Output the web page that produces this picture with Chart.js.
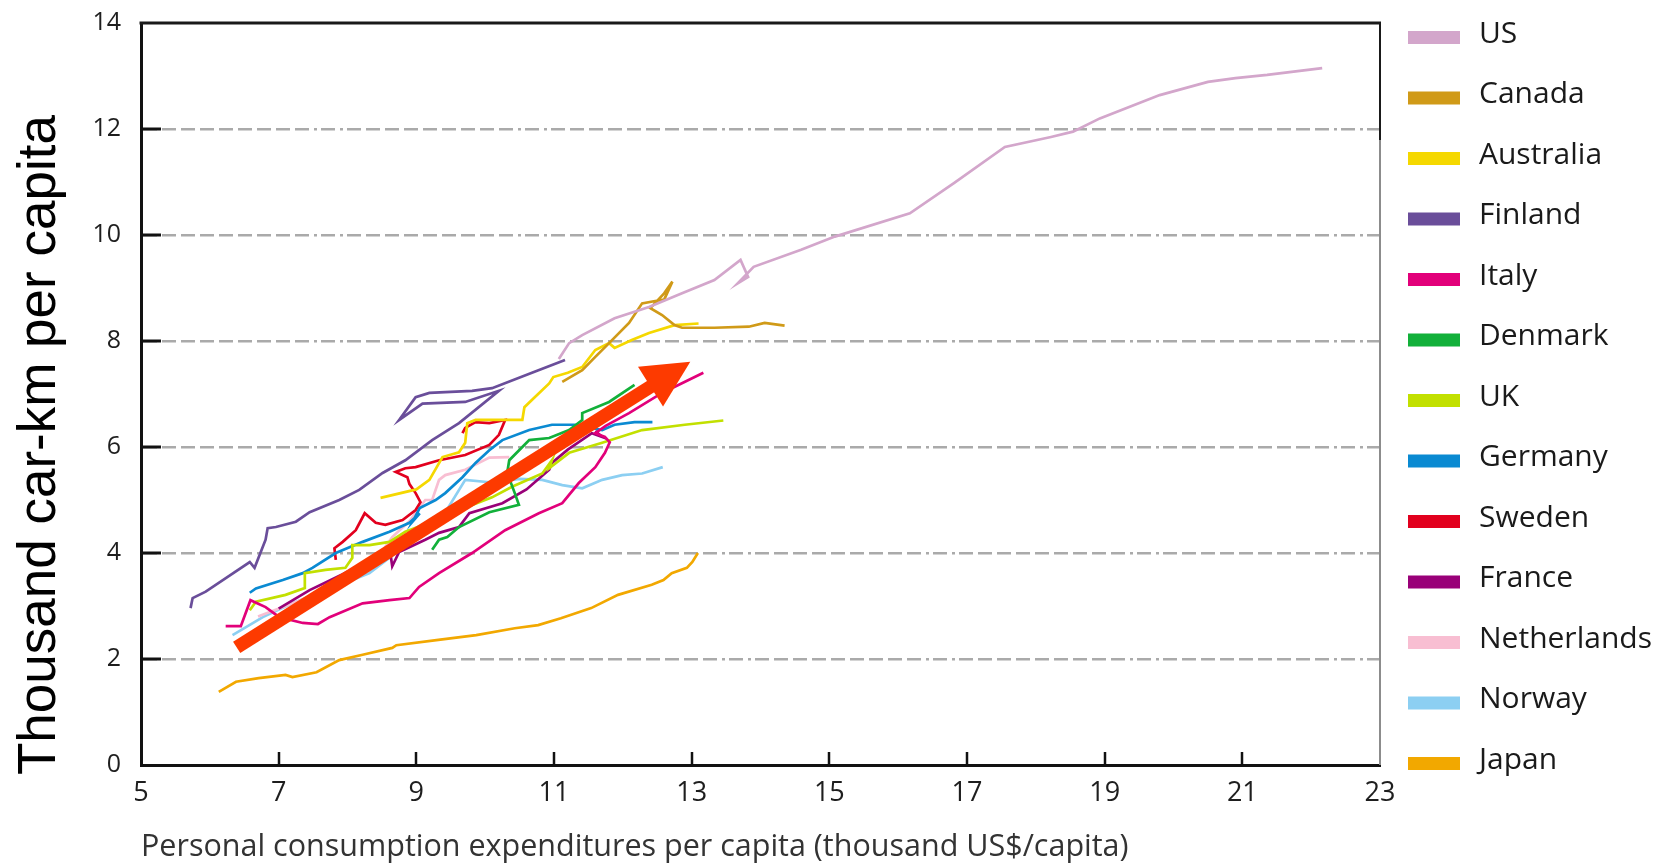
<!DOCTYPE html>
<html><head><meta charset="utf-8">
<script src="https://cdn.jsdelivr.net/npm/chart.js@4.4.1/dist/chart.umd.min.js"></script>
<style>html,body{margin:0;padding:0;background:#fff}canvas{display:block}</style>
</head><body>
<canvas id="c" width="1666" height="868"></canvas>
<script>
// ---- data (x: thousand US$/capita, y: thousand car-km per capita) ----
const COUNTRIES = ['US','Canada','Australia','Finland','Italy','Denmark','UK','Germany','Sweden','France','Netherlands','Norway','Japan'];
const COLORS = ['#d3a6cb','#d09a18','#f5d800','#6a4e9a','#e2007a','#12b03a','#c2e000','#0a8ad2','#e2001e','#990078','#f8bed2','#8ccff2','#f2a800'];

const US_X = [11.07,11.22,11.41,11.88,12.38,12.86,13.33,13.71,13.82,13.67,13.9,14.59,15.08,16.17,16.81,17.55,18.22,18.54,18.93,19.8,20.5,20.9,21.36,22.16];
const US_Y = [7.66,7.96,8.11,8.43,8.64,8.9,9.15,9.53,9.21,9.09,9.4,9.72,9.97,10.41,10.98,11.66,11.85,11.95,12.2,12.64,12.89,12.96,13.02,13.15];

const CANADA_X = [11.12,11.41,11.6,11.8,12.09,12.28,12.45,12.6,12.72,12.6,12.4,12.57,12.75,12.86,13.33,13.83,14.06,14.35];
const CANADA_Y = [7.23,7.45,7.7,7.96,8.34,8.71,8.75,8.78,9.12,8.9,8.62,8.49,8.3,8.25,8.25,8.27,8.34,8.29];

const AUSTRALIA_X = [8.48,9.0,9.19,9.38,9.62,9.71,9.74,9.86,10.29,10.54,10.57,10.72,10.93,10.99,11.2,11.41,11.6,11.8,11.88,12.13,12.38,12.75,13.1];
const AUSTRALIA_Y = [5.04,5.2,5.38,5.81,5.9,6.08,6.45,6.51,6.51,6.51,6.75,6.94,7.2,7.32,7.4,7.51,7.83,7.96,7.87,8.02,8.15,8.3,8.33];

const FINLAND_X = [5.72,5.75,5.94,6.58,6.65,6.81,6.84,6.96,7.25,7.45,7.88,8.17,8.51,8.84,9.23,9.62,10.2,9.71,9.09,8.75,8.99,9.19,9.81,10.1,10.68,11.16];
const FINLAND_Y = [2.96,3.15,3.27,3.83,3.72,4.25,4.47,4.49,4.59,4.77,5.0,5.19,5.51,5.75,6.13,6.45,7.06,6.85,6.82,6.51,6.94,7.02,7.06,7.11,7.4,7.64];

const ITALY_X = [6.23,6.45,6.59,6.81,7.01,7.35,7.57,7.74,8.22,8.61,8.9,9.04,9.33,9.81,10.29,10.78,11.12,11.36,11.6,11.74,11.81,11.74,11.6,11.75,12.09,12.57,13.17];
const ITALY_Y = [2.62,2.62,3.11,2.98,2.79,2.68,2.66,2.79,3.05,3.11,3.15,3.36,3.62,4.0,4.43,4.75,4.94,5.32,5.62,5.89,6.09,6.19,6.26,6.4,6.64,7.02,7.4];

const DENMARK_X = [9.23,9.33,9.45,9.62,10.06,10.49,10.43,10.32,10.35,10.54,10.64,10.93,11.22,11.41,11.41,11.8,12.17];
const DENMARK_Y = [4.06,4.25,4.3,4.49,4.77,4.91,5.13,5.51,5.75,6.0,6.13,6.17,6.32,6.51,6.64,6.85,7.17];

const UK_X = [6.58,6.67,7.1,7.38,7.38,7.68,7.97,8.07,8.07,8.32,8.61,8.84,9.28,9.7,10.1,10.39,10.83,10.97,10.93,11.22,11.7,12.28,12.9,13.46];
const UK_Y = [2.92,3.08,3.21,3.34,3.62,3.68,3.72,3.91,4.15,4.15,4.21,4.4,4.62,4.85,5.05,5.25,5.5,5.75,5.6,5.89,6.08,6.32,6.42,6.5];

const GERMANY_X = [6.58,6.67,7.06,7.35,7.49,7.83,8.22,8.61,8.9,9.05,8.95,9.05,9.28,9.42,9.67,9.86,10.06,10.25,10.64,10.97,11.3,11.7,11.88,12.17,12.43];
const GERMANY_Y = [3.25,3.33,3.49,3.62,3.72,4.0,4.21,4.4,4.57,4.75,4.6,4.85,5.0,5.13,5.43,5.7,5.94,6.13,6.32,6.42,6.42,6.32,6.42,6.47,6.47];

const SWEDEN_X = [7.83,7.81,7.93,8.12,8.25,8.41,8.55,8.8,8.99,9.06,8.99,8.9,8.87,8.7,8.84,8.99,9.33,9.71,10.06,10.2,10.29,10.06,9.86,9.71,9.67];
const SWEDEN_Y = [3.87,4.09,4.21,4.43,4.75,4.57,4.53,4.62,4.81,4.96,5.13,5.3,5.43,5.53,5.6,5.62,5.75,5.85,6.04,6.23,6.51,6.45,6.47,6.36,6.26];

const FRANCE_X = [7.0,7.45,7.93,8.35,8.62,8.65,8.75,9.13,9.33,9.62,9.77,10.25,10.6,10.93,10.97,11.2,11.55,11.7,11.6];
const FRANCE_Y = [2.95,3.3,3.6,3.88,4.02,3.75,4.02,4.25,4.38,4.49,4.75,4.94,5.2,5.57,5.7,5.95,6.26,6.19,6.3];

const NETHERLANDS_X = [6.7,7.3,7.9,8.4,8.65,8.9,9.13,9.23,9.33,9.42,9.71,9.91,10.06,10.35];
const NETHERLANDS_Y = [2.8,3.1,3.45,3.85,4.3,4.6,5.0,5.0,5.38,5.47,5.57,5.7,5.8,5.81];

const NORWAY_X = [6.33,6.77,7.2,7.8,8.32,8.8,9.2,9.38,9.71,10.1,10.5,10.83,11.12,11.41,11.7,11.99,12.28,12.58];
const NORWAY_Y = [2.45,2.79,3.05,3.35,3.62,4.1,4.55,4.68,5.38,5.33,5.4,5.38,5.28,5.22,5.38,5.47,5.5,5.62];

const JAPAN_X = [6.13,6.38,6.71,7.1,7.2,7.55,7.88,8.22,8.65,8.71,9.32,9.87,10.43,10.77,11.1,11.54,11.93,12.42,12.59,12.71,12.93,13.01,13.09];
const JAPAN_Y = [1.38,1.57,1.64,1.7,1.66,1.75,1.98,2.08,2.21,2.26,2.36,2.45,2.58,2.64,2.77,2.96,3.21,3.4,3.49,3.62,3.72,3.83,4.0];

const SERIES_X = [US_X,CANADA_X,AUSTRALIA_X,FINLAND_X,ITALY_X,DENMARK_X,UK_X,GERMANY_X,SWEDEN_X,FRANCE_X,NETHERLANDS_X,NORWAY_X,JAPAN_X];
const SERIES_Y = [US_Y,CANADA_Y,AUSTRALIA_Y,FINLAND_Y,ITALY_Y,DENMARK_Y,UK_Y,GERMANY_Y,SWEDEN_Y,FRANCE_Y,NETHERLANDS_Y,NORWAY_Y,JAPAN_Y];

const X_MIN = 5, X_MAX = 23, X_STEP = 2;
const Y_MIN = 0, Y_MAX = 14, Y_STEP = 2;
const INNER_X_TICKS = [7,9,11,13,15,17,19,21];
const INNER_Y_TICKS = [2,4,6,8,10,12];
const ARROW_FROM = [6.39, 2.22];
const ARROW_TO = [12.98, 7.61];
const X_TITLE = 'Personal consumption expenditures per capita (thousand US$/capita)';
const Y_TITLE = 'Thousand car-km per capita';

// ---- chart ----
const datasets = COUNTRIES.map((name, i) => ({
  label: name,
  data: SERIES_X[i].map((x, j) => ({x: x, y: SERIES_Y[i][j]})),
  borderColor: COLORS[i],
  backgroundColor: COLORS[i],
  borderWidth: 2.7,
  pointRadius: 0,
  pointHoverRadius: 0,
  showLine: true,
  fill: false,
  tension: 0
}));

const SANS = '"Open Sans", "Noto Sans", sans-serif';

const decor = {
  id: 'decor',
  afterDatasetsDraw(chart) {
    const {ctx, scales: {x, y}} = chart;
    const x0 = x.getPixelForValue(ARROW_FROM[0]), y0 = y.getPixelForValue(ARROW_FROM[1]);
    const x1 = x.getPixelForValue(ARROW_TO[0]), y1 = y.getPixelForValue(ARROW_TO[1]);
    const dx = x1 - x0, dy = y1 - y0, len = Math.hypot(dx, dy);
    const ux = dx / len, uy = dy / len;
    const headLen = 47, headHalf = 23.5;
    const bx = x1 - ux * headLen, by = y1 - uy * headLen;
    ctx.save();
    ctx.strokeStyle = '#fd3a00';
    ctx.fillStyle = '#fd3a00';
    ctx.lineWidth = 13.5;
    ctx.lineCap = 'butt';
    ctx.beginPath();
    ctx.moveTo(x0, y0);
    ctx.lineTo(bx + ux * 2, by + uy * 2);
    ctx.stroke();
    ctx.beginPath();
    ctx.moveTo(x1, y1);
    ctx.lineTo(bx - uy * headHalf, by + ux * headHalf);
    ctx.lineTo(bx + uy * headHalf, by - ux * headHalf);
    ctx.closePath();
    ctx.fill();
    ctx.restore();
  },
  afterDraw(chart) {
    const {ctx, chartArea: a, scales: {x, y}} = chart;
    ctx.save();
    // top & right frame
    ctx.strokeStyle = '#8c8c8c';
    ctx.lineWidth = 2;
    ctx.beginPath(); ctx.moveTo(a.right, a.top); ctx.lineTo(a.right, a.bottom); ctx.stroke();
    ctx.strokeStyle = '#1a1a1a';
    ctx.beginPath(); ctx.moveTo(a.right, a.top); ctx.lineTo(a.right, 140); ctx.stroke();
    ctx.lineWidth = 3;
    ctx.beginPath(); ctx.moveTo(a.left - 1.5, a.top); ctx.lineTo(a.right + 1, a.top); ctx.stroke();
    // inner tick marks
    ctx.strokeStyle = '#111';
    ctx.lineWidth = 3;
    INNER_Y_TICKS.forEach(v => {
      const py = Math.round(y.getPixelForValue(v));
      ctx.beginPath(); ctx.moveTo(a.left, py); ctx.lineTo(a.left + 20, py); ctx.stroke();
    });
    ctx.lineWidth = 2.5;
    INNER_X_TICKS.forEach(v => {
      const px = Math.round(x.getPixelForValue(v));
      ctx.beginPath(); ctx.moveTo(px, a.bottom); ctx.lineTo(px, a.bottom - 13); ctx.stroke();
    });
    // legend
    ctx.font = '30px ' + SANS;
    ctx.textAlign = 'left';
    ctx.textBaseline = 'alphabetic';
    COUNTRIES.forEach((name, i) => {
      const cy = 37.5 + i * 60.5;
      ctx.fillStyle = COLORS[i];
      ctx.fillRect(1408, cy - 6.5, 52, 13);
      ctx.fillStyle = '#1a1a1a';
      ctx.fillText(name, 1479, cy + 5);
    });
    // y-axis title
    ctx.translate(55, 775);
    ctx.rotate(-Math.PI / 2);
    ctx.font = '53px "Liberation Sans", Arial, sans-serif';
    ctx.fillStyle = '#000';
    ctx.fillText(Y_TITLE, 0, 0);
    ctx.restore();
  }
};

const GRID_DASH = [14,5,14,5,14,5,14,5,14,5,14,5,14,5,14,5,14,5,3,4,14,5,3,4];

function zeroPad(s) { s.paddingTop = 0; s.paddingBottom = 0; s.paddingLeft = 0; s.paddingRight = 0; }

new Chart(document.getElementById('c'), {
  type: 'scatter',
  data: {datasets},
  options: {
    responsive: false,
    animation: false,
    devicePixelRatio: 1,
    layout: {padding: {top: 23, right: 286, bottom: 0, left: 0}},
    plugins: {legend: {display: false}, tooltip: {enabled: false}},
    scales: {
      x: {
        type: 'linear', min: X_MIN, max: X_MAX,
        afterFit(s) { s.height = 103; zeroPad(s); },
        ticks: {stepSize: X_STEP, font: {family: SANS, size: 27}, color: '#1e1e1e', padding: 12, maxRotation: 0},
        grid: {display: false, drawTicks: false},
        border: {display: true, color: '#111', width: 3},
        title: {display: true, text: X_TITLE, align: 'start', color: '#333', font: {family: SANS, size: 30.5}, padding: {top: 0, bottom: 2}}
      },
      y: {
        type: 'linear', min: Y_MIN, max: Y_MAX,
        afterFit(s) { s.width = 141; zeroPad(s); },
        ticks: {stepSize: Y_STEP, font: {family: SANS, size: 25}, color: '#1e1e1e', padding: 20},
        grid: {
          drawTicks: false,
          lineWidth: 2.5,
          color: c => (c.tick && (c.tick.value === Y_MIN || c.tick.value === Y_MAX)) ? 'rgba(0,0,0,0)' : '#aaaaaa'
        },
        border: {display: true, color: '#111', width: 3, dash: GRID_DASH}
      }
    }
  },
  plugins: [decor]
});
</script>
</body></html>
